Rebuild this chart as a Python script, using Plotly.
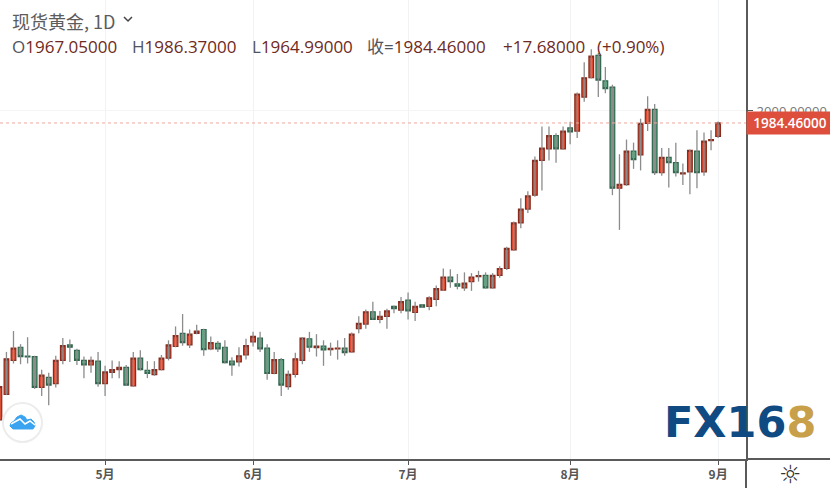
import plotly.graph_objects as go

# daily candles, 5月 starts at index 15
open_ = [1600, 1633, 1677, 1694, 1682.5, 1682, 1642, 1655, 1647, 1677, 1697, 1690, 1677, 1671, 1676, 1647, 1661.5, 1665, 1668, 1644,
         1680, 1664, 1658.5, 1665, 1680, 1695, 1712, 1697, 1712, 1717, 1692, 1699, 1694, 1676, 1675, 1684, 1701, 1706, 1693, 1660,
         1678, 1643, 1659, 1677, 1705, 1693.5, 1695.5, 1691, 1692, 1693, 1688, 1718, 1724, 1740, 1730, 1734, 1747, 1742, 1755, 1739,
         1749, 1747, 1756, 1768, 1785, 1776, 1771, 1779, 1785.5, 1787, 1771, 1787, 1796, 1820, 1855, 1873, 1891, 1936, 1951, 1968,
         1951, 1978, 1974, 2018, 2043, 2072, 2039, 2031, 1900, 1904.5, 1948, 1943, 1984, 2002, 1920, 1940, 1933, 1918.4, 1921, 1948,
         1921, 1961.5, 1967.05]
high = [1646, 1688, 1715, 1698, 1707, 1683, 1665, 1661, 1683, 1706, 1704, 1692, 1682, 1682, 1688, 1670, 1677, 1676, 1671, 1688,
        1690, 1676, 1676, 1684, 1703, 1721, 1737, 1717, 1723, 1718, 1708, 1702, 1703, 1681, 1694, 1705, 1714, 1714, 1698, 1688,
        1680, 1664, 1687, 1707, 1714, 1711, 1703, 1700, 1703, 1706, 1713, 1734, 1743, 1753, 1741, 1744, 1748, 1759, 1765, 1753,
        1749.5, 1760, 1774, 1796, 1795, 1789, 1791, 1790, 1793, 1791, 1790, 1799, 1824, 1857, 1887, 1896, 1941, 1980, 1980, 1971,
        1980, 1986, 2024, 2063, 2080, 2075, 2057, 2034, 1944, 1963, 1959, 1990, 2019, 2009, 1952, 1952, 1959, 1932, 1950, 1975,
        1972, 1975, 1986.37]
low = [1598, 1632, 1673, 1672, 1673, 1640, 1631, 1619, 1642, 1672, 1675, 1671, 1654, 1661, 1643, 1631, 1654, 1654, 1644, 1643,
       1664, 1654, 1657, 1664, 1677, 1694, 1696, 1693, 1711, 1683, 1690, 1688, 1673, 1657, 1669, 1678, 1695, 1688, 1652, 1659,
       1631, 1639, 1655, 1672, 1688, 1682, 1670, 1683, 1678, 1683, 1687, 1712, 1718, 1730, 1725, 1718, 1738, 1738, 1730, 1728,
       1745, 1742, 1747, 1767, 1771, 1769, 1767, 1767, 1779, 1770, 1770, 1784, 1794, 1819, 1848, 1868, 1889, 1897, 1936, 1933,
       1950, 1957, 1965, 2012, 2042, 2018, 2023, 1891, 1846, 1903, 1925, 1923, 1974, 1917, 1916, 1901, 1915, 1904, 1892, 1900,
       1916, 1949, 1964.99]
close = [1643, 1679, 1693, 1682, 1681.5, 1642, 1658, 1645, 1677, 1696, 1694, 1677, 1671, 1677, 1647, 1662, 1665, 1668, 1645, 1680,
         1665, 1660, 1665, 1680, 1697, 1709, 1700, 1711, 1715, 1691, 1700, 1692, 1674, 1671, 1683, 1696, 1708, 1692, 1660, 1678,
         1645, 1659, 1679, 1706, 1694, 1695.5, 1690.5, 1692.5, 1693, 1687, 1711, 1725, 1740, 1730, 1734, 1741, 1744, 1753, 1741, 1747,
         1746, 1758, 1770, 1785, 1779, 1773, 1777, 1785, 1786.8, 1771, 1787, 1796, 1822, 1855, 1873, 1890, 1936, 1952, 1968, 1951,
         1974, 1973, 2022, 2043, 2071, 2040, 2029, 1900, 1905, 1948, 1937, 1984, 2002, 1920, 1940, 1933, 1920, 1919.7, 1949, 1920,
         1961, 1963, 1984.46]

month_ticks = [15, 36, 58, 81, 102]
month_labels = ["5月", "6月", "7月", "8月", "9月"]
price_ticks = [2000]

PLOT_W, PLOT_H = 746, 459
RED, RED_EDGE = "#dc4b32", "#8a2a1c"
GREEN, GREEN_EDGE = "#5fa481", "#2d664c"
TEXT_FONT = "Open Sans, Noto Sans CJK SC, sans-serif"


def px(x):
    return x / PLOT_W


def py(y):
    return 1 - y / PLOT_H


def page_path(points, close_it=False):
    """SVG path in paper coordinates from page pixels."""
    cmds = [f"{'M' if i == 0 else 'L'}{px(x):.4f},{py(y):.4f}" for i, (x, y) in enumerate(points)]
    return " ".join(cmds) + (" Z" if close_it else "")


x = list(range(len(close)))
wick_x, wick_y = [], []
for i in x:
    wick_x += [i, i, None]
    wick_y += [low[i], high[i], None]

fig = go.Figure()
fig.add_trace(go.Scatter(x=wick_x, y=wick_y, mode="lines", line=dict(color="#8c8c8c", width=1.3), hoverinfo="skip"))
fig.add_trace(go.Candlestick(
    x=x,
    open=open_,
    close=close,
    high=[max(o, c) for o, c in zip(open_, close)],
    low=[min(o, c) for o, c in zip(open_, close)],
    increasing=dict(fillcolor=RED, line=dict(color=RED_EDGE, width=1.2)),
    decreasing=dict(fillcolor=GREEN, line=dict(color=GREEN_EDGE, width=1.2)),
))

fig.update_layout(
    width=830, height=488,
    margin=dict(l=0, r=84, t=0, b=29),
    paper_bgcolor="white", plot_bgcolor="white",
    showlegend=False,
    boxgap=0.05,
    xaxis=dict(
        range=[0.085, 105.96],
        automargin=False,
        rangeslider=dict(visible=False),
        tickmode="array", tickvals=month_ticks, ticktext=month_labels,
        ticks="outside", ticklen=4, tickcolor="#555555",
        tickfont=dict(family="Noto Sans CJK SC", size=12, color="#555555", weight=700),
        showgrid=True, gridcolor="#f1f2f4", gridwidth=1,
        showline=True, linecolor="#5a5a5a", linewidth=2,
        zeroline=False,
    ),
    yaxis=dict(
        side="right",
        range=[1549.3, 2143.7],
        automargin=False,
        tickmode="array", tickvals=price_ticks, tickformat=".5f",
        ticks="outside", ticklen=5, tickcolor="#555555",
        ticklabelstandoff=1,
        tickfont=dict(family="Open Sans", size=13, color="#777777"),
        showgrid=True, gridcolor="#f5f5f5", gridwidth=1,
        showline=True, linecolor="#5a5a5a", linewidth=2,
        zeroline=False,
    ),
)

# last price line and its label
fig.add_shape(type="line", xref="paper", x0=0, x1=1, yref="y", y0=close[-1], y1=close[-1],
              line=dict(color="#eea99e", width=1, dash="dot"))
fig.add_annotation(xref="paper", x=1, xanchor="left", yref="y", y=close[-1], yanchor="middle",
                   text=f"{close[-1]:.5f}", showarrow=False, width=84, height=20, bgcolor="#dd4f3c",
                   font=dict(family="Open Sans", size=13.5, color="white", weight=600), align="center")

# bottom right corner lines
fig.add_shape(type="line", xref="paper", yref="paper", x0=1, x1=1, y0=0, y1=py(488),
              line=dict(color="#5a5a5a", width=2))
fig.add_shape(type="line", xref="paper", yref="paper", x0=1, x1=px(830), y0=0, y1=0,
              line=dict(color="#5a5a5a", width=2))

# header
fig.add_annotation(xref="paper", yref="paper", x=px(10), y=py(21), xanchor="left", yanchor="middle",
                   text="现货黄金, 1D", showarrow=False,
                   font=dict(family="Noto Sans CJK SC", size=18, color="#5c5c5c"))
fig.add_shape(type="path", xref="paper", yref="paper",
              path=page_path([(124, 17), (128, 21), (132, 17)]), line=dict(color="#444444", width=1.5))
value_color = "#6e2a22"
label_color = "#4f5560"
fields = [(10, "O", "1967.05000"), (130, "H", "1986.37000"), (250, "L", "1964.99000"),
          (365, "收=", "1984.46000"), (501, "", "+17.68000"), (595, "", "(+0.90%)")]
for left, label, value in fields:
    fig.add_annotation(xref="paper", yref="paper", x=px(left), y=py(46), xanchor="left", yanchor="middle",
                       text=f"<span style='color:{label_color}'>{label}</span>{value}", showarrow=False,
                       font=dict(family=TEXT_FONT, size=17, color=value_color))

# settings icon
fig.add_annotation(xref="paper", yref="paper", x=px(790), y=py(474), xanchor="center", yanchor="middle",
                   text="☼", showarrow=False, font=dict(family="DejaVu Sans", size=25, color="#333333"))

# logo badge bottom left
fig.add_shape(type="circle", xref="paper", yref="paper", x0=px(3), x1=px(42), y0=py(442), y1=py(403),
              line=dict(color="#ececec", width=2), fillcolor="white")
fig.add_shape(type="path", xref="paper", yref="paper", fillcolor="#3ba4f0", line=dict(color="#3ba4f0", width=1),
              path=page_path([(10, 426), (11, 423), (14, 421), (17, 417), (21, 415), (25, 417), (27, 420),
                              (31, 419), (34, 422), (35, 426), (33, 429), (13, 429)], True))
fig.add_shape(type="path", xref="paper", yref="paper", line=dict(color="white", width=1.5),
              path=page_path([(11, 424), (20, 419), (25, 424), (30, 421), (35, 425)]))

# watermark
fig.add_annotation(xref="paper", yref="paper", x=px(662), y=py(422), xanchor="left", yanchor="middle",
                   text="<b>FX16<span style='color:#c9a04a'>8</span></b>", showarrow=False,
                   font=dict(family="DejaVu Sans", size=43, color="#0f4a82"))

# page has a default body margin, drop it so the plot sits at the window corner
fig.write_html("out.html", config={"displayModeBar": False},
               post_script="document.body.style.margin = '0';")
